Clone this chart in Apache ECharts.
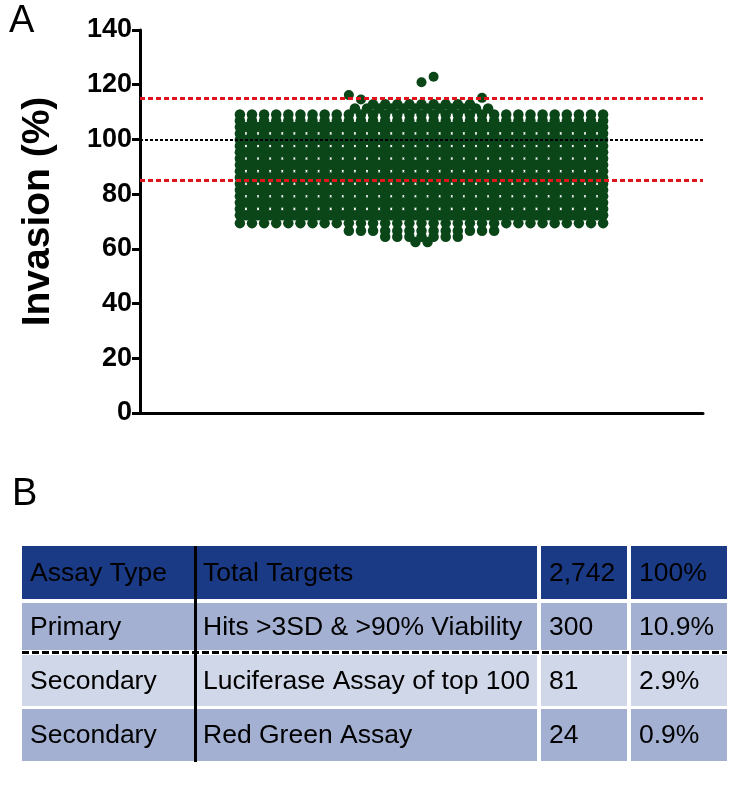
<!DOCTYPE html>
<html>
<head>
<meta charset="utf-8">
<script src="https://cdn.jsdelivr.net/npm/echarts@6/dist/echarts.min.js"></script>
<style>
  html, body { margin: 0; padding: 0; background: #fff; }
  #main { width: 732px; height: 795px; }
</style>
</head>
<body>
<div id="main"></div>
<script>
// swarm rows: invasion value of each row and how many dots sit in it
var rowValues = [62.5, 64.4, 66.6, 69.4, 72.3, 72.3, 74.6, 76.9, 76.9, 79.2, 81.5, 81.5, 83.8,
  86.1, 86.1, 88.4, 90.7, 90.7, 93.0, 95.3, 95.3, 97.6, 99.9, 99.9, 102.2, 104.5, 104.5,
  106.8, 109.1, 111.3, 112.9];
var rowCounts = [2, 7, 13, 31, 31, 30, 31, 31, 30, 31, 31, 30, 31,
  31, 30, 31, 31, 30, 31, 31, 30, 31, 31, 30, 31, 31, 30,
  31, 31, 12, 9];
// single dots off the rows (value, swarm slot)
var outlierValues = [116.2, 114.6, 115.2, 120.9, 122.9];
var outlierSlots = [-6, -5, 5, 0, 1];
// reference lines
var cutoffValues = [115, 85];
var meanValue = 100;
var yTicks = [0, 140, 20];

// table B
var assayTypes = ['Assay Type', 'Primary', 'Secondary', 'Secondary'];
var assayNames = ['Total Targets', 'Hits >3SD & >90% Viability', 'Luciferase Assay of top 100', 'Red Green Assay'];
var targetCounts = ['2,742', '300', '81', '24'];
var targetShares = ['100%', '10.9%', '2.9%', '0.9%'];

var FONT = '"Liberation Sans", Arial, Helvetica, sans-serif';
var GREEN = '#0b4619';

// beeswarm layout: odd rows on whole slots, even rows on half slots
var swarm = [];
rowValues.forEach(function (v, i) {
  var n = rowCounts[i];
  for (var k = 0; k < n; k++) {
    swarm.push([k - (n - 1) / 2, v]);
  }
});
var outliers = outlierValues.map(function (v, i) { return [outlierSlots[i], v]; });

// table pieces
var rowY = [546, 603, 655, 709];
var rowH = [53, 47, 51, 52];
var colX = [22, 197, 541, 631];
var colW = [173, 340, 86, 96];
var rowFill = ['#1b3a86', '#a3b0d2', '#d0d7e8', '#a3b0d2'];
var cols = [assayTypes, assayNames, targetCounts, targetShares];

var tableEls = [];
for (var r = 0; r < 4; r++) {
  for (var c = 0; c < 4; c++) {
    tableEls.push({
      type: 'rect',
      shape: { x: colX[c], y: rowY[r], width: colW[c], height: rowH[r] },
      style: { fill: rowFill[r] }
    });
    tableEls.push({
      type: 'text',
      style: {
        text: cols[c][r],
        x: colX[c] + (c === 1 ? 6 : 8),
        y: rowY[r] + rowH[r] / 2 + 1,
        font: '26.5px ' + FONT,
        fill: '#000',
        textAlign: 'left', textVerticalAlign: 'middle',
        align: 'left', verticalAlign: 'middle'
      }
    });
  }
}
tableEls.push({
  type: 'line',
  shape: { x1: 22, y1: 652.5, x2: 727, y2: 652.5 },
  style: { stroke: '#000', lineWidth: 3, lineDash: [7, 3] }
});
tableEls.push({
  type: 'line',
  shape: { x1: 195.5, y1: 546, x2: 195.5, y2: 762 },
  style: { stroke: '#000', lineWidth: 3 }
});
tableEls.push({
  type: 'text',
  style: { text: 'A', x: 9, y: 22, font: '38px ' + FONT, fill: '#000',
    textVerticalAlign: 'middle', verticalAlign: 'middle' }
});
tableEls.push({
  type: 'text',
  style: { text: 'B', x: 12, y: 495, font: '38px ' + FONT, fill: '#000',
    textVerticalAlign: 'middle', verticalAlign: 'middle' }
});

var chart = echarts.init(document.getElementById('main'), null, { renderer: 'canvas' });

var option = {
  animation: false,
  backgroundColor: '#fff',
  grid: { left: 140, right: 29, top: 30, bottom: 382 },
  xAxis: {
    type: 'value', min: -23.25, max: 23.25,
    axisLine: { show: true, onZero: false, lineStyle: { color: '#000', width: 3 } },
    axisTick: { show: false }, axisLabel: { show: false }, splitLine: { show: false }
  },
  yAxis: {
    type: 'value', min: yTicks[0], max: yTicks[1], interval: yTicks[2],
    axisLine: { show: true, onZero: false, lineStyle: { color: '#000', width: 3 } },
    axisTick: { show: true, length: 8, lineStyle: { color: '#000', width: 3 } },
    axisLabel: { margin: 8, color: '#000', fontSize: 27, fontWeight: 'bold', fontFamily: FONT },
    splitLine: { show: false },
    name: 'Invasion (%)', nameLocation: 'middle', nameGap: 82,
    nameTextStyle: { color: '#000', fontSize: 39, fontWeight: 'bold', fontFamily: FONT,
      padding: [0, 0, 0, 20] }
  },
  series: [
    {
      type: 'scatter', data: swarm, symbolSize: 10.5, silent: true,
      itemStyle: { color: GREEN, opacity: 1 }
    },
    {
      type: 'scatter', data: outliers, symbolSize: 10, silent: true,
      itemStyle: { color: GREEN, opacity: 1 }
    },
    {
      type: 'scatter', data: [], z: 5,
      markLine: {
        silent: true, symbol: 'none', label: { show: false },
        data: [
          { yAxis: cutoffValues[0], lineStyle: { color: '#e0141b', width: 3, type: [5, 3] } },
          { yAxis: meanValue, lineStyle: { color: '#000', width: 2, type: [3, 2] } },
          { yAxis: cutoffValues[1], lineStyle: { color: '#e0141b', width: 3, type: [5, 3] } }
        ]
      }
    }
  ],
  graphic: { elements: tableEls }
};
chart.setOption(option);
</script>
</body>
</html>
